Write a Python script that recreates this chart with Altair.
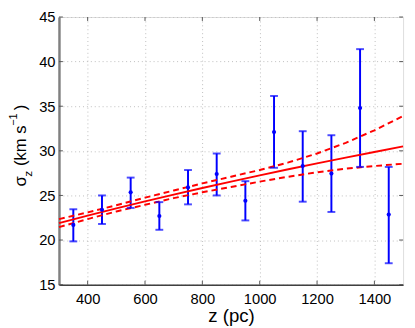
import altair as alt
import pandas as pd

# measured data points
z_pts = [350, 450, 550, 650, 750, 850, 950, 1050, 1150, 1250, 1350, 1450]
sig = [21.7, 23.4, 25.35, 22.7, 25.9, 27.4, 24.4, 32.1, 28.3, 27.45, 34.8, 22.85]
sig_lo = [19.85, 21.8, 23.6, 21.15, 24.0, 25.0, 22.2, 28.1, 24.3, 23.15, 28.2, 17.4]
sig_hi = [23.45, 25.0, 27.0, 24.25, 27.85, 29.7, 26.6, 36.15, 32.2, 31.75, 41.4, 28.2]

# fitted curve and confidence band
z_fit = [300, 400, 500, 600, 700, 800, 900, 1000, 1100, 1200, 1300, 1400, 1500]
fit = [21.9, 22.74, 23.55, 24.34, 25.09, 25.83, 26.55, 27.25, 27.93, 28.59, 29.24, 29.87, 30.5]
fit_hi = [22.35, 23.1, 23.9, 24.75, 25.55, 26.35, 27.1, 27.85, 28.7, 29.7, 30.9, 32.3, 33.9]
fit_lo = [21.45, 22.35, 23.2, 23.95, 24.7, 25.35, 25.95, 26.55, 27.1, 27.6, 28.0, 28.3, 28.55]

x_ticks = [400, 600, 800, 1000, 1200, 1400]
y_ticks = [15, 20, 25, 30, 35, 40, 45]

W, H = 351, 273
FONT = "Liberation Sans"
BLUE = "#0000ff"
RED = "#ff0000"

pts = pd.DataFrame({"z": z_pts, "s": sig, "lo": sig_lo, "hi": sig_hi})
fitdf = pd.DataFrame({"z": z_fit, "fit": fit, "hi": fit_hi, "lo": fit_lo})
xt = pd.DataFrame({"v": x_ticks})
yt = pd.DataFrame({"v": y_ticks})

xs = alt.Scale(domain=[300, 1500], nice=False, zero=False)
ys = alt.Scale(domain=[15, 45], nice=False, zero=False)

xax = alt.Axis(values=x_ticks, format="d", title="z (pc)", grid=True, gridDash=[1, 3], gridColor="#bdbdbd",
               ticks=False, labelPadding=7, labelFontSize=15, labelColor="#000", labelFont=FONT,
               titleFont=FONT, titleFontSize=19, titleFontWeight="normal", titleColor="#000",
               titlePadding=1, domainColor="#404040", domainWidth=1.5)
yax = alt.Axis(values=y_ticks, format="d", title=None, grid=True, gridDash=[1, 3], gridColor="#bdbdbd",
               ticks=False, labelPadding=4, labelFontSize=15, labelColor="#000", labelFont=FONT,
               domainColor="#808080", domainWidth=2.5)

base = alt.Chart(pts)

err = base.mark_rule(color=BLUE, strokeWidth=2).encode(
    x=alt.X("z:Q", scale=xs, axis=xax), y=alt.Y("lo:Q", scale=ys, axis=yax), y2="hi:Q")
cap_hi = base.mark_tick(color=BLUE, orient="horizontal", size=8, thickness=2).encode(
    x=alt.X("z:Q", scale=xs), y=alt.Y("hi:Q", scale=ys))
cap_lo = base.mark_tick(color=BLUE, orient="horizontal", size=8, thickness=2).encode(
    x=alt.X("z:Q", scale=xs), y=alt.Y("lo:Q", scale=ys))
dots = base.mark_point(color=BLUE, filled=True, opacity=1, size=18, shape="circle").encode(
    x=alt.X("z:Q", scale=xs), y=alt.Y("s:Q", scale=ys))

fb = alt.Chart(fitdf)
fit_line = fb.mark_line(color=RED, strokeWidth=2).encode(
    x=alt.X("z:Q", scale=xs), y=alt.Y("fit:Q", scale=ys))
hi_line = fb.mark_line(color=RED, strokeWidth=2, strokeDash=[6, 4]).encode(
    x=alt.X("z:Q", scale=xs), y=alt.Y("hi:Q", scale=ys))
lo_line = fb.mark_line(color=RED, strokeWidth=2, strokeDash=[6, 4]).encode(
    x=alt.X("z:Q", scale=xs), y=alt.Y("lo:Q", scale=ys))

TC = "#555555"
tb = alt.Chart(xt).mark_rule(color=TC, strokeWidth=1).encode(
    x=alt.X("v:Q", scale=xs), y=alt.value(H), y2=alt.value(H - 4))
tt = alt.Chart(xt).mark_rule(color=TC, strokeWidth=1).encode(
    x=alt.X("v:Q", scale=xs), y=alt.value(0), y2=alt.value(4))
tl = alt.Chart(yt).mark_rule(color=TC, strokeWidth=1).encode(
    y=alt.Y("v:Q", scale=ys), x=alt.value(0), x2=alt.value(4))
tr = alt.Chart(yt).mark_rule(color=TC, strokeWidth=1).encode(
    y=alt.Y("v:Q", scale=ys), x=alt.value(W), x2=alt.value(W - 4))

# y-axis title built from pieces (subscript / superscript)
def ytxt(s, x, y, size):
    return alt.Chart(pd.DataFrame({"t": [s]})).mark_text(
        angle=270, align="left", baseline="alphabetic", font=FONT, fontSize=size, color="#000"
    ).encode(text="t:N", x=alt.value(x), y=alt.value(y))

title_parts = [
    ytxt("σ", -34, 173, 17),
    ytxt("z", -28, 163, 12),
    ytxt("(km s", -34, 152, 17),
    ytxt("−1", -43, 111, 11),
    ytxt(")", -34, 95, 17),
]

chart = alt.layer(err, tb, tt, tl, tr, lo_line, hi_line, fit_line, cap_hi, cap_lo, dots, *title_parts).properties(
    width=W, height=H,
    autosize=alt.AutoSizeParams(type="none"),
    padding={"left": 52, "top": 6, "right": 4, "bottom": 40},
).configure_view(stroke="#808080", strokeWidth=1.5).configure(background="white")

chart.save("out.html", embed_options={"renderer": "svg", "actions": False})
